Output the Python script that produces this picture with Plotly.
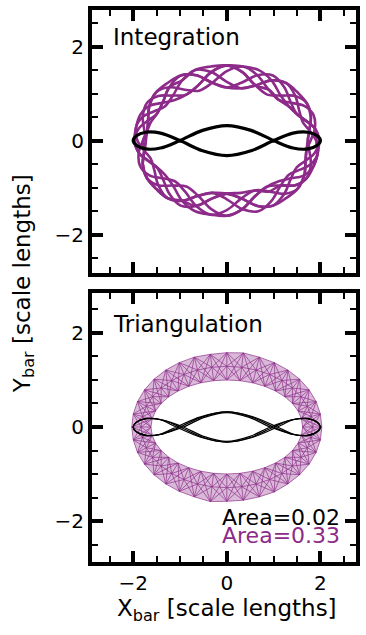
import plotly.graph_objects as go

PURPLE = "#8c2b89"

# ---- Integration panel: orbit band (five tracks from outer to inner, 10 deg steps)
TOP_OUT_X = [1.970, 1.940, 1.851, 1.706, 1.509, 1.266, 0.985, 0.674, 0.342, 0.000, -0.342, -0.674, -0.985, -1.266, -1.509, -1.706, -1.851, -1.940,
             -1.970, -1.940, -1.851, -1.706, -1.509, -1.266, -0.985, -0.674, -0.342, 0.000, 0.342, 0.674, 0.985, 1.266, 1.509, 1.706, 1.851, 1.940]
TOP_OUT_Y = [0.000, 0.278, 0.547, 0.800, 1.028, 1.226, 1.386, 1.504, 1.576, 1.600, 1.576, 1.504, 1.386, 1.226, 1.028, 0.800, 0.547, 0.278,
             0.000, -0.278, -0.547, -0.800, -1.028, -1.226, -1.386, -1.504, -1.576, -1.600, -1.576, -1.504, -1.386, -1.226, -1.028, -0.800, -0.547, -0.278]
TOP_OM_X = [1.910, 1.881, 1.795, 1.654, 1.463, 1.228, 0.955, 0.653, 0.332, 0.000, -0.332, -0.653, -0.955, -1.228, -1.463, -1.654, -1.795, -1.881,
            -1.910, -1.881, -1.795, -1.654, -1.463, -1.228, -0.955, -0.653, -0.332, 0.000, 0.332, 0.653, 0.955, 1.228, 1.463, 1.654, 1.795, 1.881]
TOP_OM_Y = [0.000, 0.257, 0.506, 0.740, 0.951, 1.134, 1.282, 1.391, 1.458, 1.480, 1.458, 1.391, 1.282, 1.134, 0.951, 0.740, 0.506, 0.257,
            0.000, -0.257, -0.506, -0.740, -0.951, -1.134, -1.282, -1.391, -1.458, -1.480, -1.458, -1.391, -1.282, -1.134, -0.951, -0.740, -0.506, -0.257]
TOP_MI_X = [1.790, 1.763, 1.682, 1.550, 1.371, 1.151, 0.895, 0.612, 0.311, 0.000, -0.311, -0.612, -0.895, -1.151, -1.371, -1.550, -1.682, -1.763,
            -1.790, -1.763, -1.682, -1.550, -1.371, -1.151, -0.895, -0.612, -0.311, 0.000, 0.311, 0.612, 0.895, 1.151, 1.371, 1.550, 1.682, 1.763]
TOP_MI_Y = [0.000, 0.217, 0.428, 0.625, 0.804, 0.958, 1.083, 1.175, 1.231, 1.250, 1.231, 1.175, 1.083, 0.958, 0.804, 0.625, 0.428, 0.217,
            0.000, -0.217, -0.428, -0.625, -0.804, -0.958, -1.083, -1.175, -1.231, -1.250, -1.231, -1.175, -1.083, -0.958, -0.804, -0.625, -0.428, -0.217]
TOP_IN_X = [1.730, 1.704, 1.626, 1.498, 1.325, 1.112, 0.865, 0.592, 0.300, 0.000, -0.300, -0.592, -0.865, -1.112, -1.325, -1.498, -1.626, -1.704,
            -1.730, -1.704, -1.626, -1.498, -1.325, -1.112, -0.865, -0.592, -0.300, 0.000, 0.300, 0.592, 0.865, 1.112, 1.325, 1.498, 1.626, 1.704]
TOP_IN_Y = [0.000, 0.196, 0.386, 0.565, 0.726, 0.866, 0.979, 1.062, 1.113, 1.130, 1.113, 1.062, 0.979, 0.866, 0.726, 0.565, 0.386, 0.196,
            0.000, -0.196, -0.386, -0.565, -0.726, -0.866, -0.979, -1.062, -1.113, -1.130, -1.113, -1.062, -0.979, -0.866, -0.726, -0.565, -0.386, -0.196]

# ---- Triangulation panel: band hull (outer / middle / inner)
BOT_OUT_X = [2.030, 1.999, 1.908, 1.758, 1.555, 1.305, 1.015, 0.694, 0.352, 0.000, -0.352, -0.694, -1.015, -1.305, -1.555, -1.758, -1.908, -1.999,
             -2.030, -1.999, -1.908, -1.758, -1.555, -1.305, -1.015, -0.694, -0.352, 0.000, 0.352, 0.694, 1.015, 1.305, 1.555, 1.758, 1.908, 1.999]
BOT_OUT_Y = [0.000, 0.274, 0.540, 0.790, 1.016, 1.210, 1.368, 1.485, 1.575, 1.580, 1.545, 1.485, 1.368, 1.210, 1.016, 0.790, 0.540, 0.274,
             0.000, -0.274, -0.540, -0.790, -1.016, -1.210, -1.368, -1.485, -1.585, -1.580, -1.556, -1.485, -1.380, -1.210, -1.016, -0.790, -0.540, -0.274]
BOT_MID_X = [1.830, 1.802, 1.720, 1.585, 1.402, 1.176, 0.915, 0.626, 0.318, 0.000, -0.318, -0.626, -0.915, -1.176, -1.402, -1.585, -1.720, -1.802,
             -1.830, -1.802, -1.720, -1.585, -1.402, -1.176, -0.915, -0.626, -0.318, 0.000, 0.318, 0.626, 0.915, 1.176, 1.402, 1.585, 1.720, 1.802]
BOT_MID_Y = [0.000, 0.224, 0.441, 0.645, 0.829, 0.988, 1.117, 1.212, 1.270, 1.290, 1.270, 1.212, 1.117, 0.988, 0.829, 0.645, 0.441, 0.224,
             0.000, -0.224, -0.441, -0.645, -0.829, -0.988, -1.117, -1.212, -1.270, -1.290, -1.270, -1.212, -1.117, -0.988, -0.829, -0.645, -0.441, -0.224]
BOT_IN_X = [1.620, 1.595, 1.522, 1.403, 1.241, 1.041, 0.810, 0.554, 0.281, 0.000, -0.281, -0.554, -0.810, -1.041, -1.241, -1.403, -1.522, -1.595,
            -1.620, -1.595, -1.522, -1.403, -1.241, -1.041, -0.810, -0.554, -0.281, 0.000, 0.281, 0.554, 0.810, 1.041, 1.241, 1.403, 1.522, 1.595]
BOT_IN_Y = [0.000, 0.174, 0.342, 0.500, 0.643, 0.766, 0.866, 0.940, 0.985, 1.000, 0.985, 0.940, 0.866, 0.766, 0.643, 0.500, 0.342, 0.174,
            0.000, -0.174, -0.342, -0.500, -0.643, -0.766, -0.866, -0.940, -0.985, -1.000, -0.985, -0.940, -0.866, -0.766, -0.643, -0.500, -0.342, -0.174]

# ---- Black (resonant) orbit, 15 deg steps
BLACK_X = [2.000, 1.932, 1.732, 1.414, 1.000, 0.518, 0.000, -0.518, -1.000, -1.414, -1.732, -1.932, -2.000,
           -1.932, -1.732, -1.414, -1.000, -0.518, 0.000, 0.518, 1.000, 1.414, 1.732, 1.932, 2.000]
BLACK_Y = [0.000, 0.101, 0.178, 0.159, 0.000, -0.217, -0.320, -0.217, 0.000, 0.159, 0.178, 0.101, 0.000,
           -0.101, -0.178, -0.159, 0.000, 0.217, 0.320, 0.217, 0.000, -0.159, -0.178, -0.101, 0.000]
BLACK_X_B = [2.000, 1.930, 1.725, 1.390, 0.930, 0.480, 0.000, -0.480, -0.930, -1.390, -1.725, -1.930, -2.000,
             -1.930, -1.725, -1.390, -0.930, -0.480, 0.000, 0.480, 0.930, 1.390, 1.725, 1.930, 2.000]
BLACK_Y_B = [0.000, 0.100, 0.176, 0.150, 0.000, -0.205, -0.305, -0.205, 0.000, 0.150, 0.176, 0.100, 0.000,
             -0.100, -0.176, -0.150, 0.000, 0.205, 0.305, 0.205, 0.000, -0.150, -0.176, -0.100, 0.000]
BLACK_X_C = [2.000, 1.934, 1.740, 1.440, 1.080, 0.560, 0.000, -0.560, -1.080, -1.440, -1.740, -1.934, -2.000,
             -1.934, -1.740, -1.440, -1.080, -0.560, 0.000, 0.560, 1.080, 1.440, 1.740, 1.934, 2.000]

AREA_LABELS = ["Area=0.02", "Area=0.33"]
PANEL_LABELS = ["Integration", "Triangulation"]

fig = go.Figure()

# --- top: braided loop orbit (strands wander between the tracks)
O_t = (TOP_OUT_X, TOP_OUT_Y); OM_t = (TOP_OM_X, TOP_OM_Y); MI_t = (TOP_MI_X, TOP_MI_Y); I_t = (TOP_IN_X, TOP_IN_Y)
n = len(TOP_OUT_X)
pat6 = [O_t, OM_t, MI_t, I_t, MI_t, OM_t]
pat9 = [O_t, OM_t, MI_t, I_t, I_t, MI_t, OM_t, O_t, O_t]
pat12 = [O_t, O_t, OM_t, OM_t, MI_t, I_t, I_t, I_t, MI_t, MI_t, OM_t, O_t]
strands = [(pat6, 0), (pat6, 1), (pat6, 3), (pat6, 4), (pat9, 0), (pat9, 4), (pat12, 2)]
for pat, s in strands:
    p = len(pat)
    xs = [pat[(k + s) % p][0][k] for k in range(n)]
    ys = [pat[(k + s) % p][1][k] for k in range(n)]
    xs.append(xs[0]); ys.append(ys[0])
    fig.add_trace(go.Scatter(x=xs, y=ys, mode="lines", line=dict(color=PURPLE, width=2.6, shape="spline", smoothing=1.0),
                             xaxis="x", yaxis="y", showlegend=False, hoverinfo="skip"))
fig.add_trace(go.Scatter(x=BLACK_X, y=BLACK_Y, mode="lines", line=dict(color="black", width=3.2, shape="spline"),
                         xaxis="x", yaxis="y", showlegend=False, hoverinfo="skip"))

# --- bottom: triangulated band
m = len(BOT_OUT_X)
fx = BOT_OUT_X + [BOT_OUT_X[0]] + [BOT_IN_X[0]] + BOT_IN_X[::-1]
fy = BOT_OUT_Y + [BOT_OUT_Y[0]] + [BOT_IN_Y[0]] + BOT_IN_Y[::-1]
fig.add_trace(go.Scatter(x=fx, y=fy, mode="lines", fill="toself", fillcolor="rgba(140,43,137,0.33)",
                         line=dict(width=0), xaxis="x2", yaxis="y2", showlegend=False, hoverinfo="skip"))
O = list(zip(BOT_OUT_X, BOT_OUT_Y)); M = list(zip(BOT_MID_X, BOT_MID_Y)); I = list(zip(BOT_IN_X, BOT_IN_Y))
sx, sy = [], []
def seg(a, b):
    sx.extend([a[0], b[0], None]); sy.extend([a[1], b[1], None])
for k in range(m):
    k1 = (k + 1) % m
    seg(O[k], O[k1]); seg(M[k], M[k1]); seg(I[k], I[k1])
    seg(O[k], M[k]); seg(M[k], I[k])
    seg(O[k], M[k1]); seg(M[k], O[k1]); seg(M[k], I[k1]); seg(I[k], M[k1])
    seg(O[k], I[k1]); seg(I[k], O[k1])
fig.add_trace(go.Scatter(x=sx, y=sy, mode="lines", line=dict(color="rgba(140,43,137,0.85)", width=0.8),
                         xaxis="x2", yaxis="y2", showlegend=False, hoverinfo="skip"))
for bx, by in [(BLACK_X, BLACK_Y), (BLACK_X_B, BLACK_Y_B), (BLACK_X_C, BLACK_Y)]:
    fig.add_trace(go.Scatter(x=bx, y=by, mode="lines", line=dict(color="black", width=1.2, shape="spline"),
                             xaxis="x2", yaxis="y2", showlegend=False, hoverinfo="skip"))

axis_common = dict(showline=True, linewidth=4, linecolor="black", mirror="ticks", ticks="inside",
                   ticklen=11, tickwidth=3.5, tickcolor="black", dtick=2, tick0=0,
                   minor=dict(dtick=0.5, ticks="inside", ticklen=6, tickwidth=2, tickcolor="black"),
                   showgrid=False, zeroline=False, tickfont=dict(family="DejaVu Sans", size=20, color="black"))

fig.update_layout(
    width=366, height=635,
    margin=dict(l=92, r=6, t=8, b=73),
    paper_bgcolor="white", plot_bgcolor="white",
    xaxis=dict(axis_common, domain=[0, 1], range=[-2.88, 2.76], anchor="y", showticklabels=False),
    yaxis=dict(axis_common, domain=[0.5235, 1.0], range=[-2.82, 2.78], anchor="x"),
    xaxis2=dict(axis_common, domain=[0, 1], range=[-2.88, 2.76], anchor="y2"),
    yaxis2=dict(axis_common, domain=[0.0, 0.4874], range=[-2.87, 2.85], anchor="x2"),
    font=dict(family="DejaVu Sans", color="black"),
)

ann = [
    dict(x=-2.47, y=2.2, xref="x", yref="y", text=PANEL_LABELS[0], showarrow=False, xanchor="left", yanchor="middle",
         font=dict(size=23, color="black")),
    dict(x=-2.47, y=2.2, xref="x2", yref="y2", text=PANEL_LABELS[1], showarrow=False, xanchor="left", yanchor="middle",
         font=dict(size=23, color="black")),
    dict(x=2.47, y=-1.93, xref="x2", yref="y2", text=AREA_LABELS[0], showarrow=False, xanchor="right", yanchor="middle",
         font=dict(size=22, color="black")),
    dict(x=2.47, y=-2.31, xref="x2", yref="y2", text=AREA_LABELS[1], showarrow=False, xanchor="right", yanchor="middle",
         font=dict(size=22, color=PURPLE)),
    dict(x=0.51, y=-0.0866, xref="paper", yref="paper", text="X<sub>bar</sub> [scale lengths]", showarrow=False,
         xanchor="center", yanchor="middle", font=dict(size=23, color="black")),
    dict(x=-0.258, y=0.505, xref="paper", yref="paper", text="Y<sub>bar</sub> [scale lengths]", showarrow=False,
         textangle=-90, xanchor="center", yanchor="middle", font=dict(size=23, color="black")),
]
fig.update_layout(annotations=ann)

fig.write_html("out.html")
